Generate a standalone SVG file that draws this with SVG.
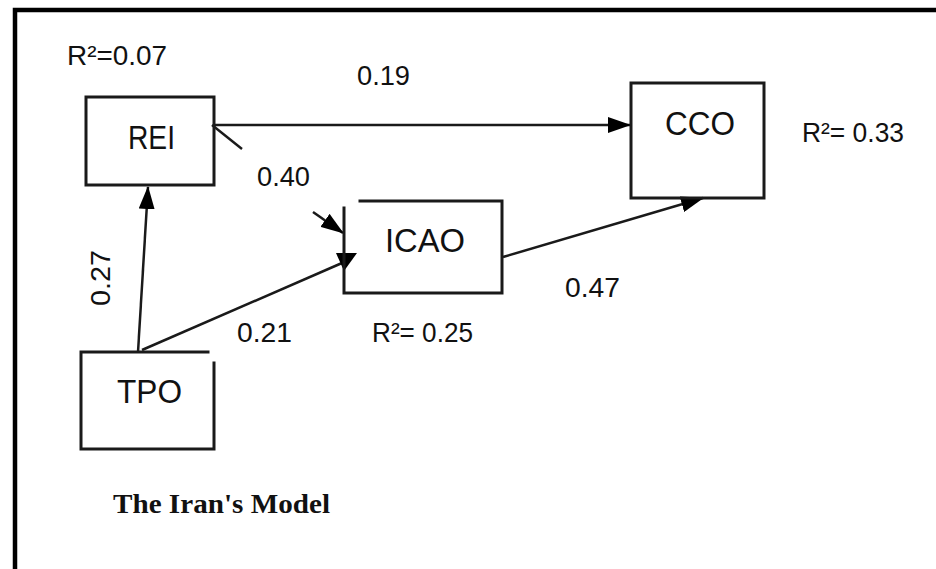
<svg xmlns="http://www.w3.org/2000/svg" width="936" height="569" viewBox="0 0 936 569">
<style>
.frame{fill:none;stroke:#000;stroke-width:4.5}
.box{fill:none;stroke:#1a1a1a;stroke-width:3;stroke-linecap:square}
.edge{fill:none;stroke:#1a1a1a;stroke-width:2.5}
.head{fill:#000}
.node{font-family:"Liberation Sans",Arial,sans-serif;font-size:34px;fill:#111}
.lab{font-family:"Liberation Sans",Arial,sans-serif;font-size:27px;fill:#111}
.title{font-family:"Liberation Serif","Times New Roman",serif;font-size:27px;font-weight:bold;fill:#111}
</style>
<defs>
<marker id="arr" markerUnits="userSpaceOnUse" markerWidth="24" markerHeight="16" refX="22" refY="8" orient="auto">
<path d="M0,0 L23,8 L0,16 z" fill="#000"/>
</marker>
</defs>
<rect width="936" height="569" fill="#fff"/>
<path class="frame" d="M15,575 V10 H945"/>
<g id="connectors">
<line class="edge" x1="214" y1="125" x2="630" y2="125" marker-end="url(#arr)"/>
<line class="edge" x1="212" y1="125" x2="242" y2="149"/>
<line class="edge" x1="313" y1="212" x2="343" y2="233" marker-end="url(#arr)"/>
<line class="edge" x1="138" y1="352" x2="148" y2="187" marker-end="url(#arr)"/>
<line class="edge" x1="142" y1="350" x2="342" y2="263"/>
<polygon class="head" points="336,253 357,253 344,271"/>
<line class="edge" x1="503" y1="257" x2="703" y2="198" marker-end="url(#arr)"/>
</g>
<g id="REI">
<rect class="box" x="86" y="97" width="128" height="88"/>
<text class="node" x="128" y="149" textLength="47" lengthAdjust="spacingAndGlyphs">REI</text>
</g>
<g id="ICAO">
<path class="box" d="M360,201 H502 V293 H344 V208"/>
<text class="node" x="385" y="252" textLength="80" lengthAdjust="spacingAndGlyphs">ICAO</text>
</g>
<g id="CCO">
<rect class="box" x="631" y="83" width="133" height="115"/>
<text class="node" x="665" y="135" textLength="70" lengthAdjust="spacingAndGlyphs">CCO</text>
</g>
<g id="TPO">
<path class="box" d="M208,352 H81 V449 H214 V363"/>
<text class="node" x="117" y="403" textLength="65" lengthAdjust="spacingAndGlyphs">TPO</text>
</g>
<g id="labels">
<text class="lab" x="67" y="65" textLength="100" lengthAdjust="spacingAndGlyphs">R²=0.07</text>
<text class="lab" x="357" y="85" textLength="53" lengthAdjust="spacingAndGlyphs">0.19</text>
<text class="lab" x="802" y="142" textLength="102" lengthAdjust="spacingAndGlyphs">R²= 0.33</text>
<text class="lab" x="257" y="186" textLength="53" lengthAdjust="spacingAndGlyphs">0.40</text>
<text class="lab" transform="translate(110,306) rotate(-90)" textLength="56" lengthAdjust="spacingAndGlyphs">0.27</text>
<text class="lab" x="565" y="297" textLength="55" lengthAdjust="spacingAndGlyphs">0.47</text>
<text class="lab" x="237" y="342" textLength="55" lengthAdjust="spacingAndGlyphs">0.21</text>
<text class="lab" x="372" y="342" textLength="101" lengthAdjust="spacingAndGlyphs">R²= 0.25</text>
<text class="title" x="113" y="513" textLength="217" lengthAdjust="spacingAndGlyphs">The Iran's Model</text>
</g>
</svg>
